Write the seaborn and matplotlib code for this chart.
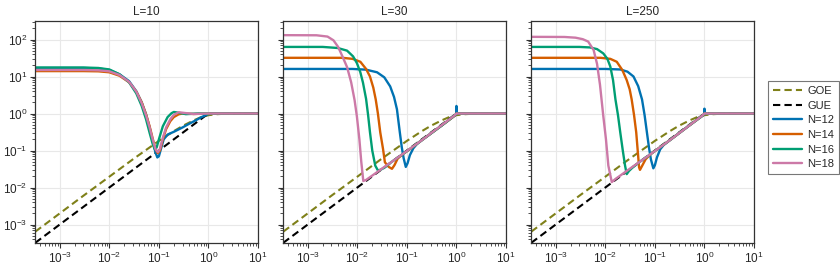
import matplotlib
matplotlib.use("Agg")
import matplotlib.pyplot as plt
import matplotlib.ticker as mticker
from matplotlib.lines import Line2D
import pandas as pd
import seaborn as sns


# ---- data (tau, K(tau)) ----
panels = ["L=10", "L=30", "L=250"]
sizes = ["N=12", "N=14", "N=16", "N=18"]
colors = ["#0072B2", "#D55E00", "#009E73", "#CC79A7"]

goe_x = [3.2e-4, 1e-3, 3e-3, 0.01, 0.03, 0.1, 0.2, 0.3, 0.5, 0.7, 1.0, 1.5, 2.0, 4.0, 10.0]
goe_y = [6.4e-4, 2e-3, 6e-3, 0.0196, 0.058, 0.182, 0.333, 0.46, 0.65, 0.79, 0.90, 0.96, 0.98, 0.995, 1.0]
gue_x = [3.2e-4, 1.0, 10.0]
gue_y = [3.2e-4, 1.0, 1.0]

l10_n12 = [(3.2e-4, 17), (3e-3, 17), (6e-3, 16.5), (0.01, 15), (0.016, 11.5), (0.025, 7.5),
           (0.035, 4), (0.045, 2), (0.055, 0.95), (0.065, 0.42), (0.075, 0.18), (0.085, 0.09),
           (0.093, 0.065), (0.1, 0.07), (0.11, 0.11), (0.125, 0.2), (0.15, 0.27), (0.2, 0.32),
           (0.3, 0.42), (0.4, 0.52), (0.55, 0.65), (0.7, 0.78), (0.85, 0.88), (1.0, 0.97),
           (1.5, 1.0), (3, 1.02), (10, 1.0)]
l10_n14 = [(3.2e-4, 14), (3e-3, 14), (6e-3, 13.8), (0.01, 13), (0.016, 10.5), (0.025, 7),
           (0.035, 3.9), (0.045, 2.0), (0.055, 0.95), (0.065, 0.45), (0.075, 0.21), (0.085, 0.11),
           (0.095, 0.085), (0.105, 0.1), (0.12, 0.2), (0.14, 0.38), (0.17, 0.62), (0.2, 0.8),
           (0.25, 0.95), (0.3, 1.0), (0.5, 0.97), (1, 1.0), (10, 1.0)]
l10_n16 = [(3.2e-4, 17.5), (3e-3, 17.5), (6e-3, 17), (0.01, 15.5), (0.016, 11.5), (0.025, 7),
           (0.035, 3.5), (0.045, 1.6), (0.055, 0.7), (0.065, 0.3), (0.075, 0.15), (0.082, 0.11),
           (0.09, 0.12), (0.1, 0.2), (0.12, 0.45), (0.15, 0.8), (0.18, 1.02), (0.2, 1.1),
           (0.25, 1.05), (0.35, 0.96), (0.6, 1.0), (1, 1.0), (10, 1.0)]
l10_n18 = [(3.2e-4, 15), (3e-3, 15), (6e-3, 14.7), (0.01, 13.8), (0.016, 11), (0.025, 7.2),
           (0.035, 3.9), (0.045, 1.9), (0.055, 0.9), (0.065, 0.42), (0.075, 0.2), (0.085, 0.11),
           (0.095, 0.09), (0.105, 0.11), (0.12, 0.22), (0.14, 0.42), (0.17, 0.7), (0.2, 0.92),
           (0.25, 1.08), (0.3, 1.05), (0.5, 0.97), (1, 1.0), (10, 1.0)]

l30_n12 = [(3.2e-4, 16), (0.008, 16), (0.015, 15.3), (0.025, 13), (0.035, 9.5), (0.046, 5.4),
           (0.055, 2.8), (0.063, 1.3), (0.072, 0.31), (0.079, 0.12), (0.086, 0.062), (0.095, 0.036),
           (0.103, 0.045), (0.115, 0.075), (0.135, 0.115), (0.16, 0.15), (0.2, 0.19), (0.5, 0.47),
           (0.9, 0.86), (0.99, 0.95), (1.0, 1.6), (1.01, 1.0), (10, 1.0)]
l30_n14 = [(3.2e-4, 32), (0.005, 32), (0.008, 30), (0.0115, 25), (0.015, 16), (0.018, 10),
           (0.021, 5), (0.0235, 2.4), (0.026, 1.0), (0.029, 0.31), (0.033, 0.11), (0.036, 0.048),
           (0.043, 0.036), (0.05, 0.032), (0.056, 0.04), (0.065, 0.06), (0.08, 0.077), (0.1, 0.095),
           (0.2, 0.19), (0.5, 0.47), (0.9, 0.85), (1, 1.0), (10, 1.0)]
l30_n16 = [(3.2e-4, 63), (0.002, 63), (0.004, 59), (0.0062, 50), (0.0082, 35), (0.0098, 23),
           (0.0115, 13), (0.013, 6.8), (0.015, 2.5), (0.0165, 0.9), (0.018, 0.31), (0.02, 0.1),
           (0.023, 0.039), (0.026, 0.029), (0.029, 0.03), (0.035, 0.034), (0.05, 0.05), (0.1, 0.096),
           (0.2, 0.19), (0.5, 0.47), (0.9, 0.86), (1, 1.0), (10, 1.0)]
l30_n18 = [(3.2e-4, 131), (0.0015, 130), (0.0025, 120), (0.0033, 95), (0.0041, 63), (0.005, 35),
           (0.0062, 18), (0.0075, 7), (0.0088, 2.3), (0.0098, 0.83), (0.011, 0.2), (0.012, 0.05),
           (0.0132, 0.015), (0.015, 0.016), (0.02, 0.021), (0.03, 0.031), (0.05, 0.05), (0.1, 0.097),
           (0.2, 0.19), (0.5, 0.48), (0.9, 0.87), (1, 1.0), (10, 1.0)]

l250_n12 = [(3.2e-4, 16), (0.01, 16), (0.02, 15.5), (0.028, 13.5), (0.037, 10), (0.046, 5.5),
            (0.055, 2.4), (0.062, 0.9), (0.069, 0.31), (0.076, 0.12), (0.083, 0.058), (0.093, 0.033),
            (0.1, 0.04), (0.11, 0.065), (0.128, 0.108), (0.15, 0.14), (0.2, 0.19), (0.5, 0.48),
            (0.9, 0.86), (0.99, 0.95), (1.0, 1.35), (1.01, 1.0), (10, 1.0)]
l250_n14 = [(3.2e-4, 32), (0.008, 32), (0.0126, 30), (0.017, 25), (0.022, 15), (0.027, 8),
            (0.031, 4.5), (0.034, 2.4), (0.038, 0.9), (0.042, 0.31), (0.045, 0.1), (0.048, 0.035),
            (0.05, 0.03), (0.055, 0.038), (0.065, 0.058), (0.08, 0.077), (0.1, 0.097), (0.2, 0.19),
            (0.5, 0.48), (0.9, 0.86), (1, 1.0), (10, 1.0)]
l250_n16 = [(3.2e-4, 63), (0.003, 63), (0.0049, 61), (0.0068, 55), (0.0091, 42), (0.011, 30),
            (0.0126, 18.6), (0.0143, 8), (0.016, 2.4), (0.018, 0.9), (0.02, 0.31), (0.0225, 0.1),
            (0.025, 0.039), (0.027, 0.023), (0.03, 0.028), (0.035, 0.034), (0.05, 0.05), (0.1, 0.097),
            (0.2, 0.19), (0.5, 0.48), (0.9, 0.86), (1, 1.0), (10, 1.0)]
l250_n18 = [(3.2e-4, 118), (0.0015, 117), (0.0025, 112), (0.0035, 102), (0.0045, 88), (0.0058, 52),
            (0.0068, 22), (0.0078, 6), (0.0091, 0.85), (0.0103, 0.2), (0.0115, 0.039), (0.0135, 0.014),
            (0.016, 0.017), (0.02, 0.021), (0.03, 0.031), (0.05, 0.05), (0.1, 0.097), (0.2, 0.19),
            (0.5, 0.48), (0.9, 0.87), (1, 1.0), (10, 1.0)]

curves = {
    "L=10": [l10_n12, l10_n14, l10_n16, l10_n18],
    "L=30": [l30_n12, l30_n14, l30_n16, l30_n18],
    "L=250": [l250_n12, l250_n14, l250_n16, l250_n18],
}

x_ticks = [1e-3, 1e-2, 1e-1, 1e0, 1e1]
y_ticks = [1e-3, 1e-2, 1e-1, 1e0, 1e1, 1e2]


def to_frame(series_list):
    rows = []
    for name, pts in zip(sizes, series_list):
        for i, (t, k) in enumerate(pts):
            rows.append({"N": name, "order": i, "tau": t, "K": k})
    return pd.DataFrame(rows)


sns.set_style("ticks")
plt.rcParams["font.family"] = ["Liberation Sans", "DejaVu Sans"]
plt.rcParams["mathtext.fontset"] = "custom"
plt.rcParams["mathtext.rm"] = "Liberation Sans"
plt.rcParams["mathtext.it"] = "Liberation Sans:italic"

fig = plt.figure(figsize=(8.4, 2.72), dpi=100)
lefts = [35, 283, 531]
axes = [fig.add_axes([l / 840, 1 - 243 / 272, 223 / 840, 222 / 272]) for l in lefts]

goe_df = pd.DataFrame({"tau": goe_x, "K": goe_y})
gue_df = pd.DataFrame({"tau": gue_x, "K": gue_y})
dash = (0, (3.5, 2))

for ax, title in zip(axes, panels):
    ax.set_xscale("log")
    ax.set_yscale("log")
    ax.grid(True, which="major", color="#e8e8e8", lw=0.8)
    ax.set_axisbelow(True)
    sns.lineplot(data=goe_df, x="tau", y="K", color="#7f8019", lw=1.5, ls=dash,
                 sort=False, estimator=None, ax=ax)
    sns.lineplot(data=gue_df, x="tau", y="K", color="black", lw=1.5, ls=dash,
                 sort=False, estimator=None, ax=ax)
    df = to_frame(curves[title])
    sns.lineplot(data=df, x="tau", y="K", hue="N", hue_order=sizes, palette=colors,
                 units="N", estimator=None, sort=False, lw=1.7, legend=False, ax=ax)
    ax.set_xlim(10 ** -3.5, 10)
    ax.set_ylim(10 ** -3.5, 10 ** 2.5)
    ax.set_title(title, fontsize=8.5, pad=4)
    ax.set_xlabel("")
    ax.set_ylabel("")
    ax.xaxis.set_major_locator(mticker.FixedLocator(x_ticks))
    ax.yaxis.set_major_locator(mticker.FixedLocator(y_ticks))
    ax.xaxis.set_major_formatter(mticker.LogFormatterSciNotation())
    ax.yaxis.set_major_formatter(mticker.LogFormatterSciNotation())
    ax.xaxis.set_minor_locator(mticker.LogLocator(base=10, subs=range(2, 10), numticks=20))
    ax.yaxis.set_minor_locator(mticker.LogLocator(base=10, subs=range(2, 10), numticks=20))
    ax.xaxis.set_minor_formatter(mticker.NullFormatter())
    ax.yaxis.set_minor_formatter(mticker.NullFormatter())
    ax.tick_params(which="major", direction="out", length=3.5, width=0.8, labelsize=8.5, pad=2,
                   color="#333333")
    ax.tick_params(which="minor", direction="out", length=2, width=0.6, color="#333333")
    for sp in ax.spines.values():
        sp.set_color("#333333")
        sp.set_linewidth(0.9)

for ax in axes[1:]:
    ax.tick_params(axis="y", labelleft=False)

handles = [Line2D([], [], color="#7f8019", lw=1.5, ls=dash),
           Line2D([], [], color="black", lw=1.5, ls=dash)]
handles += [Line2D([], [], color=c, lw=1.7) for c in colors]
labels = ["GOE", "GUE"] + sizes
leg = fig.legend(handles, labels, loc="upper left", bbox_to_anchor=(768 / 840, 1 - 81 / 272),
                 borderaxespad=0, fontsize=8, frameon=True, fancybox=False, handlelength=2.6,
                 borderpad=0.45, labelspacing=0.42, handletextpad=0.5)
leg.get_frame().set_edgecolor("#555555")
leg.get_frame().set_linewidth(0.8)

fig.savefig("out.png", dpi=100)
